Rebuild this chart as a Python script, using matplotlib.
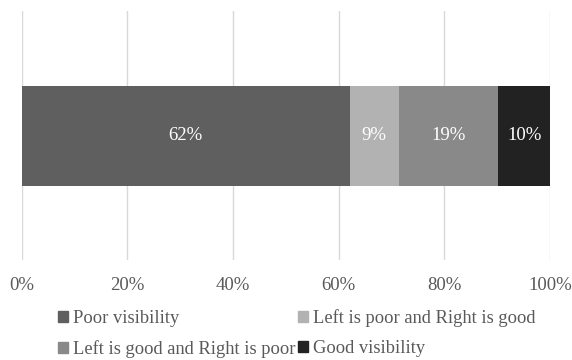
import matplotlib.pyplot as plt
from matplotlib.patches import Patch

categories = ['Poor visibility', 'Left is poor and Right is good',
              'Left is good and Right is poor', 'Good visibility']
values = [62.1, 9.3, 18.8, 9.8]
labels = ['62%', '9%', '19%', '10%']
colors = ['#5f5f5f', '#b2b2b2', '#898989', '#222222']
ticks = [0, 20, 40, 60, 80, 100]

plt.rcParams['font.family'] = ['Liberation Serif', 'DejaVu Serif']

fig = plt.figure(figsize=(5.72, 3.6), dpi=100)
ax = fig.add_axes([21.7/572, 1 - 260/360, 528.3/572, 249/360])

left = 0
for v, lab, c in zip(values, labels, colors):
    ax.barh(0, v, left=left, height=0.5, color=c, zorder=2)
    ax.text(left + v / 2, 0, lab, ha='center', va='center', color='white', fontsize=13.5)
    left += v

ax.set_xlim(0, 100)
ax.set_ylim(-0.62, 0.625)
ax.set_xticks(ticks)
ax.set_xticklabels([f'{t}%' for t in ticks], fontsize=13.5, color='#595959')
ax.set_yticks([])
ax.tick_params(axis='x', length=0, pad=12)
ax.grid(axis='x', color='#d9d9d9', linewidth=1, zorder=0)
for s in ax.spines.values():
    s.set_visible(False)

handles = [Patch(color=c) for c in colors]
order = [0, 2, 1, 3]
fig.legend([handles[i] for i in order], [categories[i] for i in order],
           ncol=2, loc='upper left', bbox_to_anchor=(58/572, 1 - 309/360),
           frameon=False, fontsize=13.3, handlelength=0.55, handleheight=0.55,
           handletextpad=0.28, columnspacing=0.12, labelspacing=0.72,
           labelcolor='#595959', borderpad=0, borderaxespad=0)

fig.savefig('out.png', dpi=100)
